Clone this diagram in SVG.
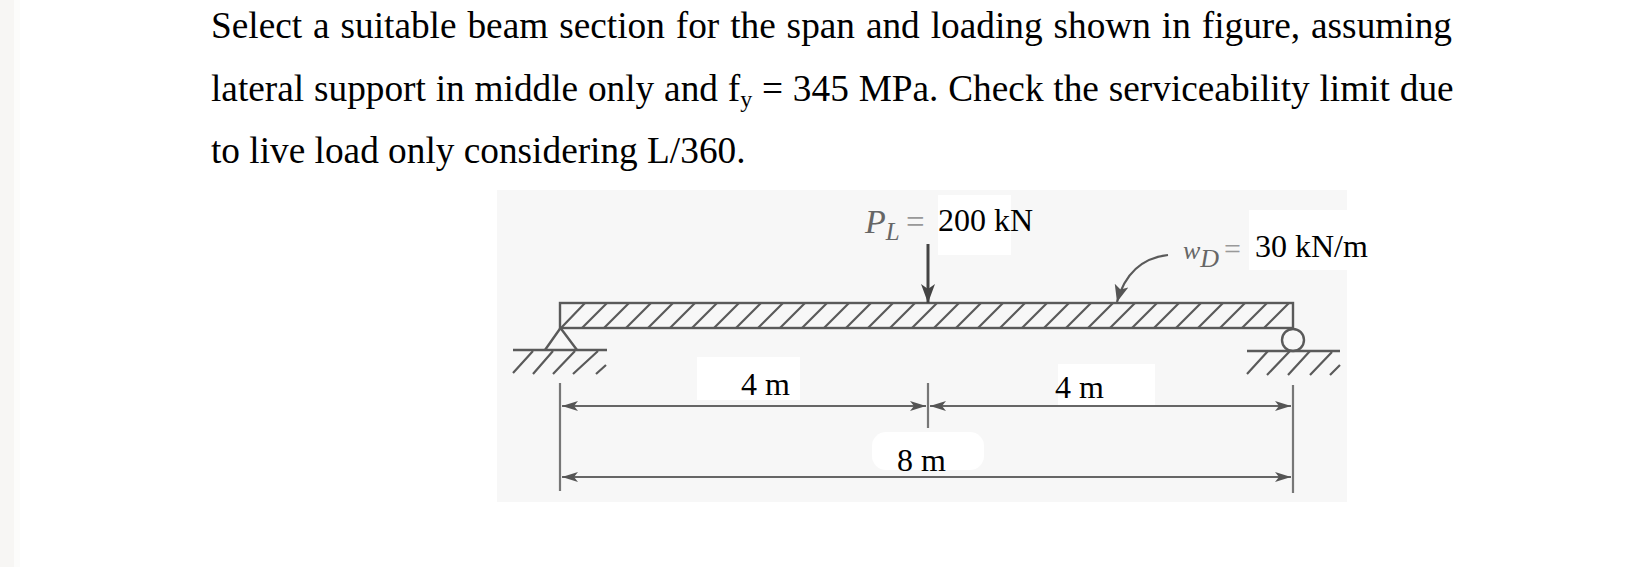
<svg xmlns="http://www.w3.org/2000/svg" width="1641" height="567" viewBox="0 0 1641 567">
<style>
.t{font-family:"Liberation Serif","Times New Roman",serif;fill:#000}
.p{font-size:37.3px}
.l{font-size:32px}
.g{font-family:"Liberation Serif","Times New Roman",serif;fill:#666;font-style:italic}
.e{font-family:"Liberation Serif","Times New Roman",serif;fill:#999}
.s{stroke:#5a5a5a;fill:none;stroke-width:2.4}
.h{stroke:#5a5a5a;fill:none;stroke-width:2.2}
.d{stroke:#666;fill:none;stroke-width:2.2}
.x{stroke:#777;fill:none;stroke-width:2.2}
.w{fill:#fff}
</style>
<defs>
<marker id="a" markerUnits="userSpaceOnUse" markerWidth="18" markerHeight="14" refX="16" refY="7" orient="auto-start-reverse"><path d="M0 2L16 7L0 12L4 7Z" fill="#555"/></marker>
<marker id="b" markerUnits="userSpaceOnUse" markerWidth="20" markerHeight="18" refX="19" refY="8" orient="auto"><path d="M0 1L19 8L0 15L5 8Z" fill="#444"/></marker>
<marker id="c" markerUnits="userSpaceOnUse" markerWidth="18" markerHeight="18" refX="17" refY="8" orient="auto"><path d="M0 1L17 8L0 15L4 8Z" fill="#555"/></marker>
</defs>
<rect width="1641" height="567" fill="#fff"/>
<rect width="14" height="567" fill="#f7f6f4"/>
<rect x="14" width="6" height="567" fill="#fcfcfb"/>
<rect x="497" y="190" width="850" height="312" fill="#f7f7f7"/>
<g id="patches">
<rect class="w" x="938" y="195" width="73" height="60"/>
<rect class="w" x="1249" y="210" width="121" height="60"/>
<rect class="w" x="697" y="357" width="103" height="43"/>
<rect class="w" x="1058" y="364" width="97" height="41"/>
<rect class="w" x="872" y="432" width="112" height="38" rx="14"/>
</g>
<g id="problem-text" class="t p">
<text x="211" y="38" word-spacing="1.6">Select a suitable beam section for the span and loading shown in figure, assuming</text>
<text x="211" y="101" word-spacing="0.5">lateral support in middle only and f<tspan font-size="24" dy="6">y</tspan><tspan dy="-6"> = 345 MPa. Check the serviceability limit due</tspan></text>
<text x="211" y="163">to live load only considering L/360.</text>
</g>
<g id="beam">
<rect x="560" y="303" width="733" height="25" fill="#ebebeb" class="s"/>
<path class="h" d="M561 328L585 303M582 328L607 303M604 328L629 303M626 328L651 303M648 328L673 303M670 328L695 303M692 328L717 303M714 328L739 303M736 328L761 303M758 328L783 303M780 328L805 303M802 328L827 303M824 328L849 303M846 328L871 303M868 328L893 303M890 328L915 303M912 328L937 303M934 328L959 303M956 328L981 303M978 328L1003 303M1000 328L1025 303M1022 328L1047 303M1044 328L1069 303M1066 328L1091 303M1088 328L1113 303M1110 328L1135 303M1132 328L1157 303M1154 328L1179 303M1176 328L1201 303M1198 328L1223 303M1220 328L1245 303M1242 328L1267 303M1264 328L1289 303"/>
</g>
<g id="support-left">
<path class="s" d="M560.5 328L545 350M560.5 328L577 350"/>
<path class="s" d="M513 350H607"/>
<path class="h" d="M513 373L533 351M533 374L553 351M553 374L575 351M573 374L598 351M596 374L606 365"/>
</g>
<g id="support-right">
<circle cx="1293" cy="340" r="11" fill="#f7f7f7" class="s"/>
<path class="s" d="M1247 351H1340"/>
<path class="h" d="M1247 374L1268 351M1267 375L1290 351M1288 375L1310 351M1310 375L1332 352M1330 375L1340 365"/>
</g>
<g id="connectors">
<path stroke="#444" stroke-width="3" fill="none" d="M928 244V303" marker-end="url(#b)"/>
<path class="h" d="M1168 255C1142 258 1125 273 1117 302" marker-end="url(#c)"/>
<path class="x" d="M560 383V491M928 383V428M1293 385V493"/>
<path class="d" d="M562 406H926" marker-start="url(#a)" marker-end="url(#a)"/>
<path class="d" d="M930 406H1291" marker-start="url(#a)" marker-end="url(#a)"/>
<path class="d" d="M562 477H1291" marker-start="url(#a)" marker-end="url(#a)"/>
</g>
<g id="labels">
<text class="g" x="865" y="233" font-size="34">P<tspan font-size="25" dy="7">L</tspan></text>
<text class="e" x="906" y="233" font-size="33">=</text>
<text class="t l" x="938" y="231">200 kN</text>
<text class="g" x="1183" y="259" font-size="26">w<tspan dy="8" font-size="26">D</tspan></text>
<text class="e" x="1224" y="259" font-size="30">=</text>
<text class="t l" x="1255" y="257">30 kN/m</text>
<text class="t l" x="741" y="395">4 m</text>
<text class="t l" x="1055" y="398">4 m</text>
<text class="t l" x="897" y="471">8 m</text>
</g>
</svg>
